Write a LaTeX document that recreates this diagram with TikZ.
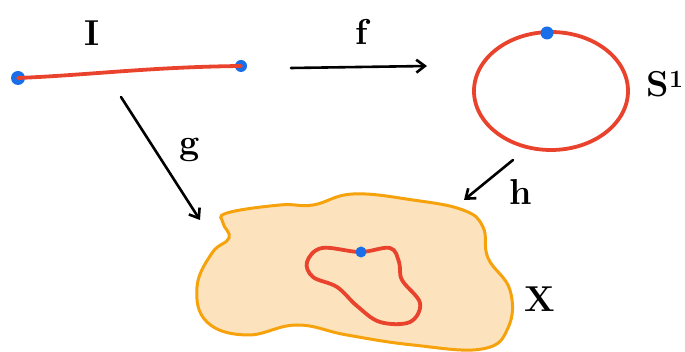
\documentclass[tikz,border=0pt]{standalone}
\usepackage{tikz}
\usetikzlibrary{arrows.meta,positioning}
\definecolor{Path}{HTML}{E9432D}
\definecolor{Pt}{HTML}{1A6FE8}
\definecolor{Space}{HTML}{F6A20C}
\definecolor{SpaceFill}{HTML}{FCE3BE}

\begin{document}
\begin{tikzpicture}[x=1pt,y=-1pt,
  every node/.style={font=\fontsize{36}{40}\selectfont\bfseries},
  map/.style={-{Straight Barb[length=3mm,width=4.5mm]},line width=2.6pt,line cap=round},
  loopline/.style={draw=Path,line width=3.8pt,line cap=round},
  dot/.style={circle,fill=Pt,inner sep=0pt,minimum size=#1}]
\useasboundingbox (0,0) rectangle (685,352);
% the interval
\node[dot=14pt] (a) at (18,78) {};
\node[dot=12pt] (b) at (241,66) {};
\draw[loopline] (a.center) .. controls (90,75) and (150,67) .. (b.center);
\node (I) at (92,33) {I};
% the circle
\draw[loopline] (551,91) ellipse [x radius=77, y radius=59];
\node[dot=13pt] (base) at (547,33) {};
\node[anchor=west] (S) at (643,84) {S$^{\mathbf{1}}$};
% the space
\draw[draw=Space,fill=SpaceFill,line width=3pt] plot[smooth cycle,tension=0.7] coordinates {
  (227,213) (280,205) (313,205) (353,194) (413,200) (463,210) (483,227)
  (488,258) (510,290) (508,328) (482,349) (413,345) (347,335) (297,325)
  (247,335) (207,322) (197,287) (212,253) (229,238) (223,223)};
\draw[loopline] plot[smooth cycle,tension=0.6] coordinates {
  (307,262) (322,248) (360,252) (390,248) (399,262) (402,280)
  (420,303) (410,322) (380,322) (357,306) (337,287) (313,277)};
\node[dot=11pt] (xbase) at (361,252) {};
\node (X) at (540,299) {X};
% the maps
\coordinate (f0) at (291,68);
\coordinate (f1) at (427,66);
\draw[map] (f0) -- (f1);
\node (f) at (362,32) {f};
\coordinate (g0) at (121,97);
\coordinate (g1) at (200,220);
\draw[map] (g0) -- (g1);
\node (g) at (190,150) {g};
\coordinate (h0) at (513,160);
\coordinate (h1) at (464,200);
\draw[map] (h0) -- (h1);
\node (h) at (521,192) {h};
\end{tikzpicture}
\end{document}
